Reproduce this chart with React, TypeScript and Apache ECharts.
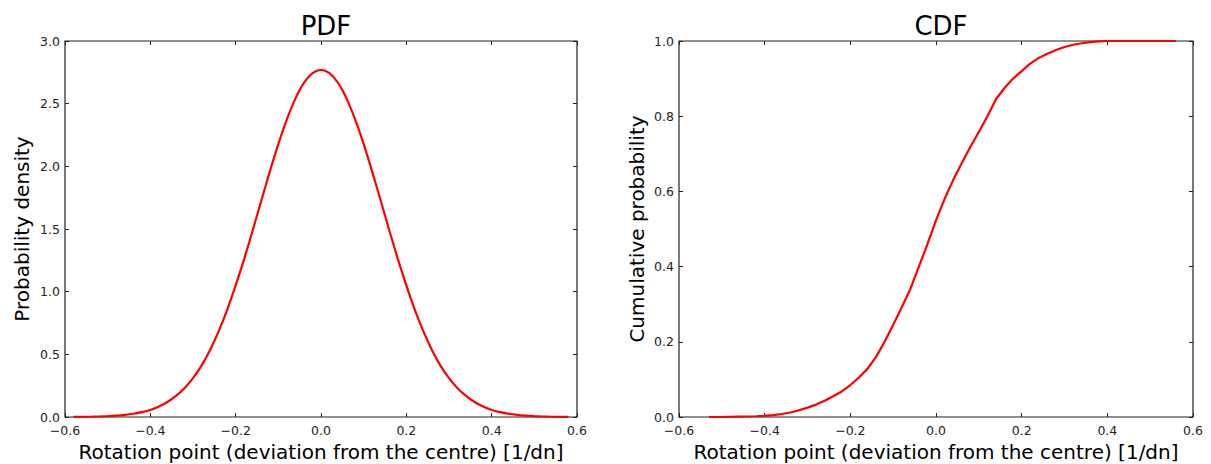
import React, { useEffect, useRef } from "react";
import * as echarts from "echarts";

// PDF readings
const pdfX = [
  -0.58, -0.56, -0.54, -0.52, -0.5, -0.48, -0.46, -0.44, -0.42, -0.4,
  -0.38, -0.36, -0.34, -0.32, -0.3, -0.28, -0.26, -0.24, -0.22, -0.2,
  -0.18, -0.16, -0.14, -0.12, -0.1, -0.08, -0.06, -0.04, -0.02, 0,
  0.02, 0.04, 0.06, 0.08, 0.1, 0.12, 0.14, 0.16, 0.18, 0.2,
  0.22, 0.24, 0.26, 0.28, 0.3, 0.32, 0.34, 0.36, 0.38, 0.4,
  0.42, 0.44, 0.46, 0.48, 0.5, 0.52, 0.54, 0.56, 0.58,
];
const pdfY = [
  0.001, 0.001, 0.002, 0.004, 0.007, 0.011, 0.017, 0.026, 0.039, 0.056,
  0.083, 0.12, 0.168, 0.23, 0.31, 0.41, 0.535, 0.683, 0.855, 1.05,
  1.262, 1.49, 1.725, 1.958, 2.177, 2.374, 2.54, 2.665, 2.743, 2.77,
  2.743, 2.665, 2.54, 2.374, 2.177, 1.958, 1.725, 1.49, 1.262, 1.05,
  0.855, 0.683, 0.535, 0.41, 0.31, 0.23, 0.168, 0.12, 0.083, 0.056,
  0.039, 0.026, 0.017, 0.011, 0.007, 0.004, 0.002, 0.001, 0.001,
];

// CDF readings
const cdfX = [
  -0.53, -0.5, -0.46, -0.42, -0.4, -0.38, -0.36, -0.34, -0.32, -0.3,
  -0.28, -0.26, -0.24, -0.22, -0.2, -0.18, -0.16, -0.14, -0.12, -0.1,
  -0.08, -0.06, -0.04, -0.02, 0, 0.02, 0.04, 0.06, 0.08, 0.1,
  0.12, 0.14, 0.16, 0.18, 0.2, 0.22, 0.24, 0.26, 0.28, 0.3,
  0.32, 0.34, 0.36, 0.38, 0.4, 0.45, 0.5, 0.56,
];
const cdfY = [
  0.0, 0.0, 0.001, 0.002, 0.003, 0.005, 0.008, 0.012, 0.018, 0.025,
  0.033, 0.043, 0.055, 0.068, 0.085, 0.105, 0.128, 0.16, 0.2, 0.245,
  0.292, 0.34, 0.4, 0.46, 0.523, 0.58, 0.63, 0.675, 0.718, 0.758,
  0.8, 0.845, 0.875, 0.9, 0.92, 0.94, 0.955, 0.966, 0.976, 0.984,
  0.99, 0.994, 0.997, 0.999, 1.0, 1.0, 1.0, 1.0,
];

const titles = ["PDF", "CDF"];
const xName = "Rotation point (deviation from the centre) [1/dn]";
const yNames = ["Probability density", "Cumulative probability"];
const yMax = [3.0, 1.0];
const yStep = [0.5, 0.2];

const FONT = "DejaVu Sans";
const fmt = (v: number) =>
  Math.abs(v) < 1e-9 ? "0.0" : v.toFixed(1).replace("-", "\u2212");

export default function App() {
  const ref = useRef<HTMLDivElement>(null);
  useEffect(() => {
    if (!ref.current) return;
    const chart = echarts.init(ref.current, undefined, { renderer: "svg" });
    const grids = [
      { left: 65, top: 41, width: 512, height: 376 },
      { left: 679, top: 41, width: 514, height: 376 },
    ];
    const tickStyle = { show: true, inside: true, length: 4, lineStyle: { color: "#222", width: 1 } };
    const labelStyle = { color: "#222", fontFamily: FONT, fontSize: 12.5 };
    const noLine = { show: false, onZero: false };
    const xAxes: any[] = [];
    const yAxes: any[] = [];
    grids.forEach((g, i) => {
      xAxes.push({
        type: "value", gridIndex: i, min: -0.6, max: 0.6, interval: 0.2, position: "bottom",
        axisLine: noLine, splitLine: { show: false }, axisTick: tickStyle,
        axisLabel: { ...labelStyle, margin: 7, formatter: fmt, showMinLabel: true, showMaxLabel: true },
        name: xName, nameLocation: "middle", nameGap: 23,
        nameTextStyle: { fontFamily: FONT, fontSize: 20, color: "#000" },
      });
      xAxes.push({
        type: "value", gridIndex: i, min: -0.6, max: 0.6, interval: 0.2, position: "top",
        axisLine: noLine, splitLine: { show: false }, axisTick: tickStyle,
        axisLabel: { show: false },
      });
      yAxes.push({
        type: "value", gridIndex: i, min: 0, max: yMax[i], interval: yStep[i], position: "left",
        axisLine: noLine, splitLine: { show: false }, axisTick: tickStyle,
        axisLabel: { ...labelStyle, margin: 5, formatter: fmt, showMinLabel: true, showMaxLabel: true },
        name: yNames[i], nameLocation: "middle", nameGap: i === 0 ? 33 : 32, nameRotate: 90,
        nameTextStyle: { fontFamily: FONT, fontSize: 20, color: "#000" },
      });
      yAxes.push({
        type: "value", gridIndex: i, min: 0, max: yMax[i], interval: yStep[i], position: "right",
        axisLine: noLine, splitLine: { show: false }, axisTick: tickStyle,
        axisLabel: { show: false },
      });
    });
    chart.setOption({
      animation: false,
      backgroundColor: "#fff",
      title: titles.map((t, i) => ({
        text: t,
        left: i === 0 ? 321 : 936,
        top: 8,
        textAlign: "center",
        textStyle: { fontFamily: FONT, fontSize: 26, fontWeight: "normal", color: "#000" },
      })),
      grid: grids.map((g) => ({
        ...g, show: true, borderColor: "#222", borderWidth: 1.2, backgroundColor: "transparent",
        containLabel: false, outerBoundsMode: "none",
      })),
      xAxis: xAxes,
      yAxis: yAxes,
      series: [
        {
          type: "line", xAxisIndex: 0, yAxisIndex: 0, showSymbol: false, symbol: "none",
          smooth: 0.3,
          data: pdfX.map((x, k) => [x, pdfY[k]]),
          lineStyle: { color: "#ff0000", width: 2.2 },
        },
        {
          type: "line", xAxisIndex: 2, yAxisIndex: 2, showSymbol: false, symbol: "none",
          data: cdfX.map((x, k) => [x, cdfY[k]]),
          lineStyle: { color: "#ff0000", width: 2.2 },
        },
      ],
    });
    return () => chart.dispose();
  }, []);
  return (
    <div
      ref={ref}
      style={{ position: "absolute", left: 0, top: 0, width: 1211, height: 464, background: "#fff" }}
    />
  );
}
